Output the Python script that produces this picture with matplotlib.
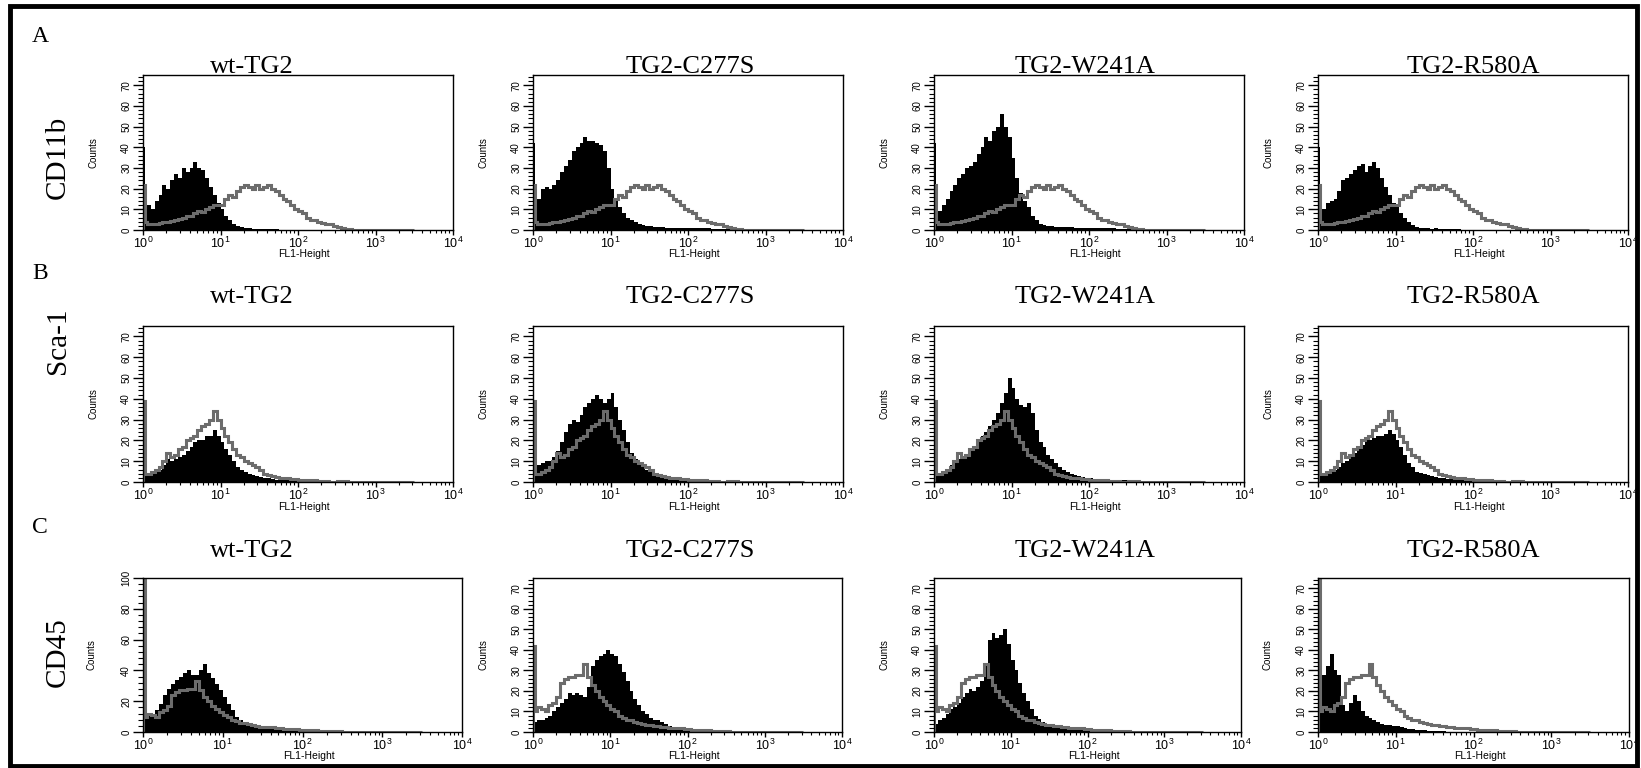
#!/usr/bin/env python3
"""Flow cytometry overlays: CD11b / Sca-1 / CD45 for wt-TG2 and TG2 mutants."""

import matplotlib
matplotlib.use("Agg")
import matplotlib.pyplot as plt
import numpy as np
from matplotlib.patches import Rectangle
from matplotlib.ticker import LogLocator, MultipleLocator, NullFormatter

# histogram counts per 0.05-decade bin (FL1-Height, starting at 10^0)
CONSTRUCTS = ["wt-TG2", "TG2-C277S", "TG2-W241A", "TG2-R580A"]
MARKERS = ["CD11b", "Sca-1", "CD45"]
ROW_LETTERS = ["A", "B", "C"]

CD11B_CONTROL = [4, 3, 3, 3, 3.5, 4, 4, 4.5, 5, 5.5, 6, 7, 7, 8, 9, 8.5, 10, 11, 12, 12,
                 12, 15, 17, 16, 19, 21, 22, 21, 20, 22, 20, 21, 22, 20, 19, 17, 15, 14, 12, 10,
                 9, 8, 6, 5, 5, 4, 3.5, 3, 3, 2, 1.5, 1, 0.5, 0.5]
CD11B_WT = [10, 12, 10, 14, 17, 22, 20, 24, 27, 25, 30, 28, 30, 33, 30, 29, 25, 21, 17, 13,
            10, 7, 5, 3, 2, 1.5, 1, 1, 0.5, 0.5, 0.5, 0.5, 0.4, 0.3, 0.3, 0.2]
CD11B_C277S = [8, 15, 20, 21, 20, 22, 24, 28, 31, 34, 38, 40, 42, 45, 43, 43, 42, 41, 38, 30,
               20, 14, 11, 8, 6, 5, 4, 3, 2.5, 2, 2, 1.5, 1.5, 1.5, 1.2, 1, 1, 1, 1, 1,
               1, 0.8, 0.8, 0.8, 0.8, 0.8, 0.6, 0.6, 0.5, 0.5, 0.4, 0.3]
CD11B_W241A = [6, 9, 12, 15, 19, 22, 25, 27, 30, 31, 33, 37, 40, 45, 43, 48, 50, 56, 50, 45,
               35, 25, 18, 14, 11, 7, 5, 3, 2.5, 2, 2, 1.5, 1.5, 1.5, 1.5, 1.5, 1.2, 1.2, 1, 1,
               1, 1, 1, 1, 0.8, 0.8, 0.8, 0.6, 0.5, 0.5, 0.4, 0.3, 0.3]
CD11B_R580A = [9, 10, 13, 14, 15, 19, 24, 25, 27, 29, 31, 32, 28, 31, 33, 30, 25, 21, 17, 13,
               11, 8, 6, 4, 2.5, 1.5, 1, 0.8, 0.8, 0.6, 1, 0.6, 0.5, 0.5, 0.4, 0.4, 0.3]

SCA1_CONTROL = [4, 4, 5, 6, 7, 10, 14, 12, 13, 16, 17, 20, 21, 22, 25, 27, 28, 30, 34, 30,
                26, 22, 19, 16, 13, 12, 10, 9, 8, 7, 6, 4, 3.5, 3, 2.5, 2, 2, 1.8, 1.5, 1.5,
                1.2, 1, 1, 0.8, 0.8, 0.5, 0.3, 0.3, 0.2, 0.2, 0.3, 0.5, 0.3]
SCA1_WT = [3, 3, 4, 5, 6, 8, 11, 10, 11, 12, 13, 15, 17, 19, 20, 20, 22, 22, 25, 22,
           19, 16, 13, 10, 7, 6, 5, 4, 3.5, 3, 2.5, 2, 2, 1.5, 1.2, 1, 1, 0.8, 0.5, 0.5, 0.3]
SCA1_C277S = [6, 8, 9, 10, 10, 12, 15, 19, 24, 28, 30, 29, 32, 36, 38, 40, 42, 40, 38, 40,
              43, 36, 30, 25, 19, 14, 11, 9, 7, 6, 5, 4, 3, 2.5, 2, 2, 1.5, 1.5, 1.2, 1,
              1, 1, 0.8, 0.8, 0.8, 0.6, 0.5, 0.5, 0.5, 0.4, 0.3, 0.3, 0.3]
SCA1_W241A = [3, 4, 5, 6, 8, 10, 11, 12, 13, 15, 17, 20, 22, 24, 27, 30, 33, 38, 43, 50,
              45, 40, 37, 36, 38, 33, 25, 19, 17, 13, 11, 9, 7, 6, 5, 4, 3.5, 3, 2.5, 2,
              2, 1.5, 1.5, 1.2, 1.2, 1, 1, 1, 1, 0.8, 0.6, 0.6, 0.5, 0.5, 0.4, 0.3, 0.3]
SCA1_R580A = [3, 3, 4, 5, 6, 7, 9, 10, 12, 14, 16, 18, 21, 20, 21, 22, 22, 23, 25, 23,
              20, 17, 13, 9, 7, 5, 4.5, 4, 3.5, 3, 2.5, 2, 2, 1.5, 1.5, 1.2, 1, 1, 0.8, 0.5, 0.3]

CD45_CONTROL = [10, 12, 11, 10, 13, 14, 17, 24, 26, 27, 27, 28, 28, 33, 27, 23, 20, 17, 15, 13,
                11, 10, 8, 7, 6, 6, 5, 4.5, 4, 3.5, 3.5, 3, 3, 2.5, 2.5, 2, 2, 2, 1.8, 1.5,
                1.5, 1.2, 1, 1, 0.8, 0.8, 0.6, 0.5, 0.5, 0.4, 0.3]
CD45_WT = [10, 11, 12, 14, 18, 24, 28, 31, 34, 36, 38, 40, 37, 37, 40, 44, 38, 35, 31, 27,
           23, 18, 14, 10, 8, 6, 5, 4, 3.5, 3, 3, 2.5, 2, 1.8, 1.5, 1.2, 1, 1, 1, 0.8,
           0.8, 0.6, 0.5, 0.5, 0.5, 0.5, 0.4, 0.3]
CD45_C277S = [5, 6, 6, 7, 8, 10, 12, 14, 16, 19, 18, 19, 18, 17, 22, 32, 35, 37, 38, 40,
              38, 37, 33, 29, 25, 20, 16, 13, 10, 9, 7, 6, 6, 5, 4, 3, 2.5, 2.5, 2, 2,
              1.5, 1.5, 1.2, 1, 1, 1, 1, 1, 0.8, 0.6, 0.5, 0.5, 0.5, 0.5, 0.5, 0.3]
CD45_W241A = [4, 6, 7, 9, 11, 12, 14, 17, 19, 21, 20, 22, 25, 32, 45, 48, 46, 47, 50, 43,
              35, 30, 24, 19, 15, 11, 8, 6.5, 5, 4, 3, 3, 2.5, 2.5, 2, 2, 1.8, 1.5, 1.5, 1.2,
              1, 1, 1, 1, 1, 1, 0.8, 0.8, 0.8, 0.8, 0.6, 0.5, 0.5, 0.5, 0.4, 0.3]
CD45_R580A = [25, 28, 32, 38, 30, 28, 13, 10, 14, 18, 15, 10, 8, 7, 6, 5, 4, 3.5, 3.5, 3,
              3, 2.5, 2, 1.5, 1.5, 1, 1, 0.8, 0.6, 0.5, 0.5, 0.4, 0.3]

# first-channel pile-up at 10^0, per panel
SPIKE_BLACK = [[40, 42, 42, 40], [5, 6, 5, 5], [15, 5, 5, 28]]
SPIKE_GRAY = [[22, 22, 22, 22], [39, 39, 39, 39], [100, 42, 42, 80]]

ROW_CONTROLS = [CD11B_CONTROL, SCA1_CONTROL, CD45_CONTROL]
ROW_SAMPLES = [
    [CD11B_WT, CD11B_C277S, CD11B_W241A, CD11B_R580A],
    [SCA1_WT, SCA1_C277S, SCA1_W241A, SCA1_R580A],
    [CD45_WT, CD45_C277S, CD45_W241A, CD45_R580A],
]
Y_TOPS = [[75, 75, 75, 75], [75, 75, 75, 75], [100, 75, 75, 75]]
Y_STEPS = [[10, 10, 10, 10], [10, 10, 10, 10], [20, 10, 10, 10]]

W, H = 1641, 768
SERIF = "Liberation Serif"
SANS = "Liberation Sans"
GRAY = "#6c6c6c"


def fig_rect(left, top, width, height):
    return [left / W, 1 - (top + height) / H, width / W, height / H]


def stair_data(spike, counts, n_bins):
    vals = np.zeros(n_bins)
    vals[: len(counts)] = counts
    decades = np.concatenate([[0.0, 0.02], 0.05 * np.arange(1, n_bins + 1)])
    return np.concatenate([[spike], vals]), 10 ** decades


def draw_panel(ax, black, gray, spike_b, spike_g, ytop, ystep):
    n_bins = 70
    vb, edges = stair_data(spike_b, black, n_bins)
    vg, _ = stair_data(spike_g, gray, n_bins)
    ax.stairs(vb, edges, fill=True, color="black", linewidth=0)
    ax.stairs(vg, edges, color=GRAY, linewidth=2.2)

    ax.set_xscale("log")
    ax.set_xlim(1, 1e4)
    ax.set_ylim(0, ytop)
    ax.set_xticks([1, 10, 100, 1000, 10000])
    ax.set_xticklabels([rf"$\mathregular{{10^{{{i}}}}}$" for i in range(5)], family=SANS)
    ax.xaxis.set_minor_locator(LogLocator(base=10, subs=np.arange(2, 10)))
    ax.xaxis.set_minor_formatter(NullFormatter())
    ax.yaxis.set_major_locator(MultipleLocator(ystep))
    ax.yaxis.set_minor_locator(MultipleLocator(ystep / 5))

    ax.tick_params(axis="x", which="major", direction="out", length=3.5, width=1, pad=0.8,
                   labelsize=9)
    ax.tick_params(axis="x", which="minor", direction="out", length=2.2, width=0.8)
    ax.tick_params(axis="y", which="major", direction="out", length=7, width=1, pad=1.5,
                   labelsize=7)
    ax.tick_params(axis="y", which="minor", direction="out", length=3.5, width=0.8)
    for lbl in ax.get_yticklabels():
        lbl.set_rotation(90)
        lbl.set_va("center")
        lbl.set_family(SANS)

    for spine in ax.spines.values():
        spine.set_linewidth(1.0)
    ax.set_ylabel("Counts", fontsize=7, family=SANS)
    ax.yaxis.set_label_coords(-0.145, 0.5)
    ax.set_xlabel("FL1-Height", fontsize=7.5, family=SANS)
    ax.xaxis.set_label_coords(0.52, -0.125)


def main():
    fig = plt.figure(figsize=(W / 100, H / 100), dpi=100)

    col_left = [143, 533, 934, 1318]
    col_width = [[310, 310, 310, 310], [310, 310, 310, 310], [319, 309, 307, 311]]
    row_top = [75, 326, 578]
    row_height = [155, 156, 154]
    title_x = [252, 690, 1085, 1473]
    title_base = [73, 303, 557]
    letter_base = [42, 279, 533]
    marker_y = [157, 341, 652]

    for r in range(3):
        for c in range(4):
            ax = fig.add_axes(fig_rect(col_left[c], row_top[r], col_width[r][c], row_height[r]))
            draw_panel(ax, ROW_SAMPLES[r][c], ROW_CONTROLS[r], SPIKE_BLACK[r][c],
                       SPIKE_GRAY[r][c], Y_TOPS[r][c], Y_STEPS[r][c])
            fig.text(title_x[c] / W, 1 - title_base[r] / H, CONSTRUCTS[c], ha="center",
                     va="baseline", fontsize=19, family=SERIF)
        fig.text(32 / W, 1 - letter_base[r] / H, ROW_LETTERS[r], ha="left", va="baseline",
                 fontsize=17, family=SERIF)
        fig.text(58 / W, 1 - marker_y[r] / H, MARKERS[r], ha="center", va="center",
                 rotation=90, fontsize=21, family=SERIF)

    frame = Rectangle((10 / W, 1 - 766 / H), 1627 / W, 760 / H, transform=fig.transFigure,
                      fill=False, edgecolor="black", linewidth=3.5)
    fig.add_artist(frame)

    fig.savefig("out.png", dpi=100)
    plt.close(fig)


if __name__ == "__main__":
    main()
